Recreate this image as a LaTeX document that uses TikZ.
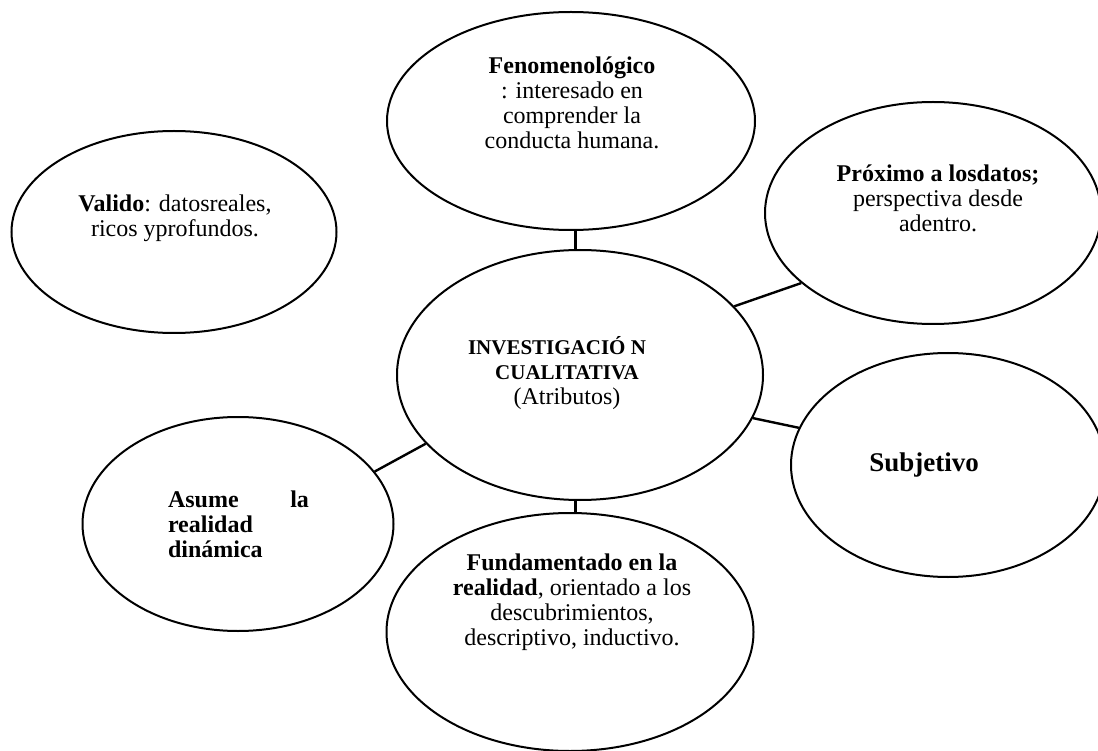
\documentclass[tikz,border=0pt]{standalone}
\usepackage{fontspec}
\setmainfont{Liberation Serif}
\usetikzlibrary{shapes.geometric}
\begin{document}
\begin{tikzpicture}[x=1pt,y=-1pt,
  oval/.style={draw,ellipse,line width=2pt,inner sep=0pt},
  lbl/.style={align=center,inner sep=0pt,font=\fontsize{24}{25}\selectfont},
  link/.style={line width=2.4pt}]
\useasboundingbox[fill=white] (0,0) rectangle (1098,751);
% ellipses
\node[oval,minimum width=368pt,minimum height=218pt] (top) at (571,121) {};
\node[oval,minimum width=325pt,minimum height=202pt] (val) at (174,232) {};
\node[oval,minimum width=336pt,minimum height=222pt] (prox) at (933,213) {};
\node[oval,minimum width=366pt,minimum height=250pt] (cent) at (580,375) {};
\node[oval,minimum width=314pt,minimum height=224pt] (subj) at (948,465) {};
\node[oval,minimum width=311pt,minimum height=214pt] (asu) at (238,524) {};
\node[oval,minimum width=367pt,minimum height=238pt] (fund) at (570,632) {};
% texts
\node[lbl] (ttop) at (572,103) {\textbf{Fenomenológico}\\: interesado en\\comprender la\\conducta humana.};
\node[lbl] (tval) at (175,218) {\textbf{Valido}: datosreales,\\ricos yprofundos.};
\node[lbl] (tprox) at (938,198) {\textbf{Próximo a losdatos;}\\perspectiva desde\\adentro.};
\node[lbl] (tcent) at (567,373) {{\fontsize{21}{24}\selectfont\textbf{INVESTIGACIÓ N}\hspace*{20pt}}\\{\fontsize{21}{24}\selectfont\textbf{CUALITATIVA}}\\(Atributos)};
\node[lbl,font=\fontsize{27}{28}\selectfont\bfseries] (tsubj) at (924,465) {Subjetivo};
\node[lbl,text width=141pt,align=left,font=\fontsize{24}{25}\selectfont\bfseries] (tasu) at (238.5,524) {\makebox[141pt][s]{Asume\hfill la}\\realidad\\dinámica};
\node[lbl] (tfund) at (572,602) {\textbf{Fundamentado en la}\\\textbf{realidad}, orientado a los\\descubrimientos,\\descriptivo, inductivo.};
% connectors
\draw[link] (cent.92) -- (cent.92 |- top.south);
\draw[link] (cent.268) -- (cent.268 |- fund.north);
\draw[link] (cent.24) -- (prox.208);
\draw[link] (cent.-14) -- (subj.166);
\draw[link] (cent.204) -- (asu.21);
\end{tikzpicture}
\end{document}
